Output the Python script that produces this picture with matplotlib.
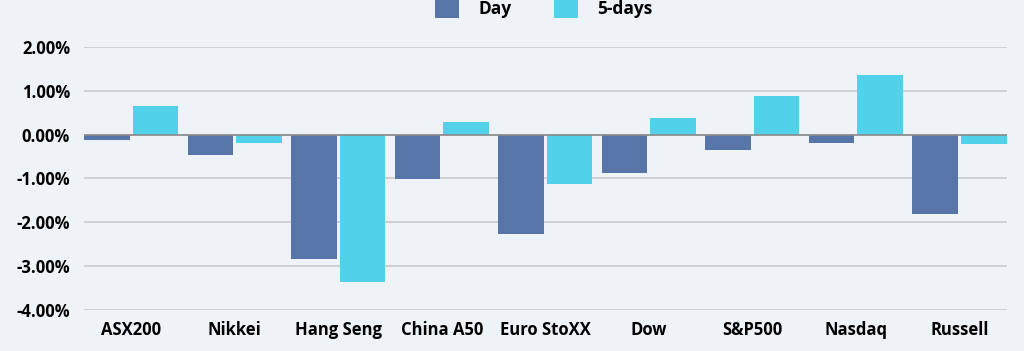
import numpy as np
import matplotlib.pyplot as plt
from matplotlib.ticker import FuncFormatter

markets = ["ASX200", "Nikkei", "Hang Seng", "China A50", "Euro StoXX",
           "Dow", "S&P500", "Nasdaq", "Russell"]
day = [-0.12, -0.47, -2.84, -1.02, -2.26, -0.87, -0.34, -0.19, -1.82]
five_days = [0.66, -0.19, -3.37, 0.30, -1.13, 0.37, 0.89, 1.37, -0.21]

plt.rcParams['font.family'] = ['Open Sans', 'DejaVu Sans']

fig = plt.figure(figsize=(10.24, 3.51), dpi=100)
fig.patch.set_facecolor('#eef3f8')
ax = fig.add_axes([0.082, 0.117, 0.901, 0.749])
ax.set_facecolor('none')

x = np.arange(len(markets))
w = 0.44
gap = 0.015
ax.bar(x - w/2 - gap, day, w, color='#5875aa', label='Day', zorder=3)
ax.bar(x + w/2 + gap, five_days, w, color='#52d1ea', label='5-days', zorder=3)

ax.set_ylim(-4, 2)
ax.set_xlim(-w - gap, len(markets) - 1 + w + gap)
ax.set_yticks(np.arange(-4, 2.01, 1))
ax.yaxis.set_major_formatter(FuncFormatter(lambda v, p: f"{v:.2f}%"))
ax.grid(axis='y', color='#c9cbcf', linewidth=1.2, zorder=0)
ax.axhline(0, color='#8c8c8c', linewidth=1.2, zorder=4)
ax.set_xticks(x)
ax.set_xticklabels(markets)
ax.tick_params(length=0, labelsize=12)
for lbl in ax.get_xticklabels() + ax.get_yticklabels():
    lbl.set_fontweight('bold')
ax.tick_params(axis='y', pad=10)
ax.tick_params(axis='x', pad=8)
for s in ax.spines.values():
    s.set_visible(False)

fig.legend(loc='upper center', bbox_to_anchor=(0.531, 1.05), ncol=2, frameon=False,
           prop={'weight': 'bold', 'size': 12.5}, handlelength=1.4, handleheight=1.4,
           handletextpad=1.1, columnspacing=2.45)

fig.savefig('out.png', dpi=100, facecolor=fig.get_facecolor())
